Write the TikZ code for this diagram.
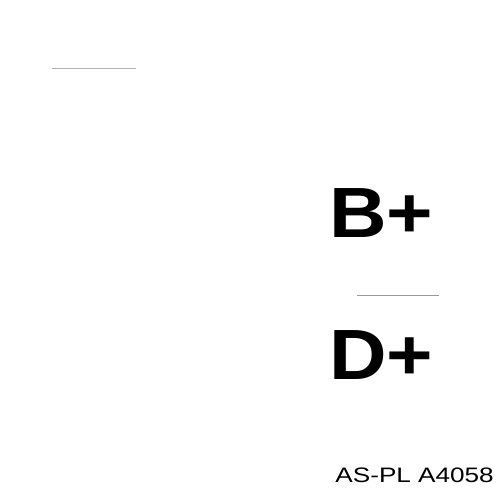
\documentclass[tikz,border=0pt]{standalone}
\usepackage{fontspec}
\setmainfont{Liberation Sans}
\usepackage{tikz}

\tikzset{
    terminal/.style={anchor=base west, inner sep=0pt, font=\fontsize{40.5}{48}\selectfont\bfseries, xscale=1.12, transform shape},
    partno/.style={anchor=base west, inner sep=0pt, font=\fontsize{11.9}{14}\selectfont, xscale=1.25, transform shape},
    rule/.style={color=gray!80, line width=0.5pt}
}

\begin{document}
\begin{tikzpicture}[x=0.02cm, y=-0.02cm]
        \useasboundingbox (0,0) rectangle (500,500);
        %%Top mark
        \coordinate (markL) at (52,68);
        \coordinate (markR) at (136,68);
        \draw[rule, gray!60] (markL) to (markR);
        %%Terminals
        \node[terminal] (bplus) at (329,237) {B+};
        \node[terminal] (dplus) at (329,379) {D+};
        \coordinate (sepL) at (357,295);
        \coordinate (sepR) at (439,295);
        \draw[rule] (sepL) to (sepR);
        %%Part number
        \node[partno] (part) at (335,482) {AS-PL A4058};
\end{tikzpicture}
\end{document}
